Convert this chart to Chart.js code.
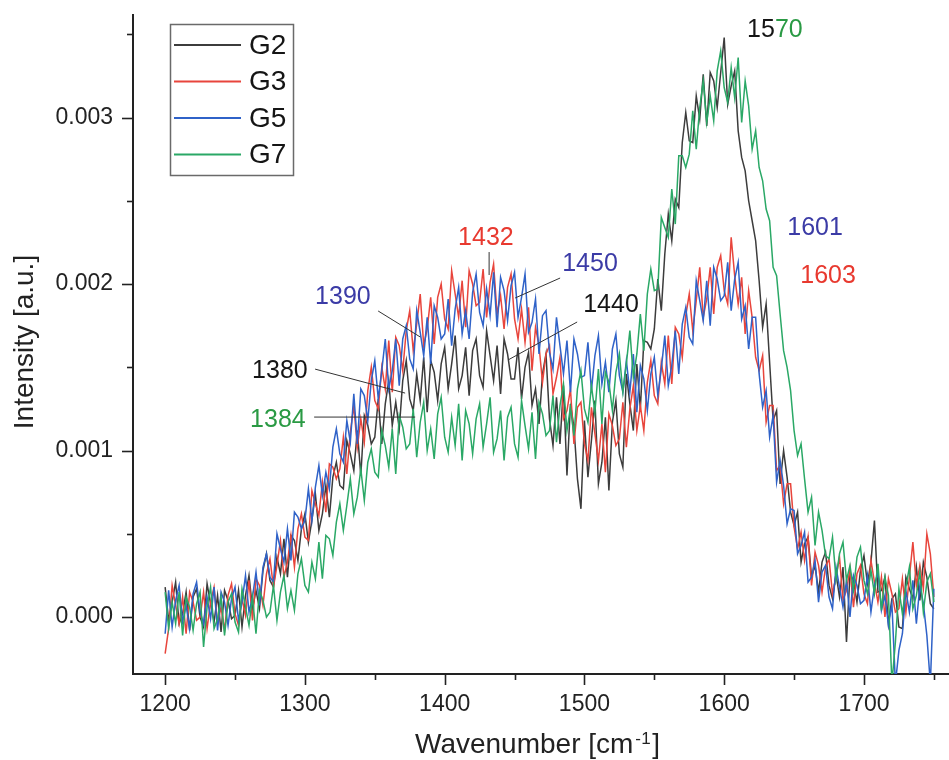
<!DOCTYPE html>
<html>
<head>
<meta charset="utf-8">
<script src="https://cdn.jsdelivr.net/npm/chart.js@4.4.1/dist/chart.umd.min.js"></script>
<style>
  html, body { margin: 0; padding: 0; background: #fff; overflow: hidden; }
  #wrap { width: 949px; height: 760px; overflow: hidden; }
</style>
</head>
<body>
<div id="wrap"><canvas id="chart" width="960" height="760"></canvas></div>
<script>
// Raman spectra, wavenumber in cm-1, step 2.5
const wavenumber = [
  1200,1202.5,1205,1207.5,1210,1212.5,1215,1217.5,1220,1222.5,1225,1227.5,1230,1232.5,1235,1237.5,1240,1242.5,1245,1247.5,
  1250,1252.5,1255,1257.5,1260,1262.5,1265,1267.5,1270,1272.5,1275,1277.5,1280,1282.5,1285,1287.5,1290,1292.5,1295,1297.5,
  1300,1302.5,1305,1307.5,1310,1312.5,1315,1317.5,1320,1322.5,1325,1327.5,1330,1332.5,1335,1337.5,1340,1342.5,1345,1347.5,
  1350,1352.5,1355,1357.5,1360,1362.5,1365,1367.5,1370,1372.5,1375,1377.5,1380,1382.5,1385,1387.5,1390,1392.5,1395,1397.5,
  1400,1402.5,1405,1407.5,1410,1412.5,1415,1417.5,1420,1422.5,1425,1427.5,1430,1432.5,1435,1437.5,1440,1442.5,1445,1447.5,
  1450,1452.5,1455,1457.5,1460,1462.5,1465,1467.5,1470,1472.5,1475,1477.5,1480,1482.5,1485,1487.5,1490,1492.5,1495,1497.5,
  1500,1502.5,1505,1507.5,1510,1512.5,1515,1517.5,1520,1522.5,1525,1527.5,1530,1532.5,1535,1537.5,1540,1542.5,1545,1547.5,
  1550,1552.5,1555,1557.5,1560,1562.5,1565,1567.5,1570,1572.5,1575,1577.5,1580,1582.5,1585,1587.5,1590,1592.5,1595,1597.5,
  1600,1602.5,1605,1607.5,1610,1612.5,1615,1617.5,1620,1622.5,1625,1627.5,1630,1632.5,1635,1637.5,1640,1642.5,1645,1647.5,
  1650,1652.5,1655,1657.5,1660,1662.5,1665,1667.5,1670,1672.5,1675,1677.5,1680,1682.5,1685,1687.5,1690,1692.5,1695,1697.5,
  1700,1702.5,1705,1707.5,1710,1712.5,1715,1717.5,1720,1722.5,1725,1727.5,1730,1732.5,1735,1737.5,1740,1742.5,1745,1747.5,
  1750
];

const g2 = [
  0.00018,-0.00002,0.00009,0.00021,-0.00004,0.00002,0.00015,-0.00008,0.00012,0.00017,0,-0.00006,0.00020,0.00008,-0.00003,0.00013,-0.00009,0.00016,0.00010,-0.00001,0.00001,0.00016,-0.00006,
  0.00013,0.00025,0.00005,0.00016,0.00005,0.00028,0.00038,0.00022,0.00018,0.00036,0.00026,0.00047,0.00024,0.00049,0.00046,0.00034,0.00053,
  0.00062,0.00045,0.00058,0.00074,0.00052,0.00062,0.00079,0.00060,0.00084,0.00093,0.00079,0.00077,0.00106,0.00098,
  0.00088,0.00112,0.00085,0.00121,0.00115,0.00104,0.00108,0.00131,0.00104,0.00128,0.00142,0.00115,0.00129,0.00113,0.00142,0.00154,0.00131,0.00124,0.00146,0.00130,0.00156,0.00123,0.00154,0.00147,0.00130,0.00152,
  0.00162,0.00137,0.00152,0.00169,0.00137,0.00145,0.00162,0.00133,0.00160,0.00167,0.00145,0.00138,0.00172,0.00157,0.00142,0.00163,0.00134,0.00167,0.00158,0.00143,0.00143,0.00162,0.00131,0.00150,0.00159,0.00127,0.00137,0.00116,
  0.00146,0.00158,0.00119,0.00103,0.00132,0.00104,0.00139,0.00085,0.00128,0.00114,0.00083,0.00065,0.00118,0.00084,0.00106,0.00130,0.00080,0.00093,0.00120,0.00076,0.00117,0.00130,0.00098,0.00090,0.00146,0.00128,0.00112,0.00152,
  0.00125,0.00166,0.00165,0.00161,0.00173,0.00203,0.00184,0.00218,0.00242,0.00226,0.00251,0.00246,0.00285,0.00303,0.00286,0.00285,0.00313,0.00299,0.00326,0.00295,0.00327,0.00322,0.00306,0.00327,0.00348,0.00308,0.00319,0.00328,0.00292,0.00276,0.00268,0.00250,0.00238,0.00226,0.00202,0.00174,0.00188,0.00153,0.00118,0.00124,0.00080,
  0.00100,0.00084,0.00063,0.00055,0.00063,0.00033,0.00044,0.00048,0.00024,0.00031,0.00015,0.00033,0.00039,0.00019,0.00011,0.00026,0.00012,0.00030,-0.00015,0.00026,0.00022,0.00009,0.00028,0.00037,0.00020,0.00033,0.00058,0.00015,0.00016,0.00024,-0.00004,0.00011,0.00014,-0.00006,-0.00007,0.00024,0.00017,0.00011,0.00030,0.00010,0.00033,0.00024,0.00008,0.00005
];

const g3 = [
  -0.00022,-0.00007,0.00019,0.00007,-0.00004,0.00012,-0.00010,0.00015,0.00009,-0.00002,0,0.00015,-0.00007,0.00009,0.00018,-0.00004,0.00006,-0.00008,0.00013,0.00020,0.00002,-0.00005,0.00011,
  0.00001,0.00022,-0.00002,0.00023,0.00019,0.00007,0.00026,0.00035,0.00018,0.00031,0.00046,0.00024,0.00033,0.00049,0.00030,0.00053,0.00062,0.00048,0.00046,0.00076,0.00068,0.00061,0.00081,0.00063,0.00092,0.00090,0.00083,0.00089,0.00108,
  0.00086,0.00111,0.00127,0.00102,0.00119,0.00105,0.00136,0.00150,0.00130,0.00125,0.00150,0.00137,0.00166,0.00135,0.00168,0.00163,0.00148,0.00172,0.00184,0.00160,0.00176,0.00194,0.00163,0.00173,0.00192,0.00164,0.00192,0.00200,
  0.00179,0.00173,0.00208,0.00194,0.00180,0.00202,0.00174,0.00208,0.00200,0.00187,0.00189,0.00209,0.00180,0.00201,0.00212,0.00182,0.00193,0.00173,0.00198,0.00206,0.00179,0.00167,0.00185,0.00165,0.00186,0.00148,0.00174,0.00163,
  0.00141,0.00158,0.00163,0.00134,0.00144,0.00156,0.00119,0.00124,0.00137,0.00104,0.00126,0.00129,0.00104,0.00094,0.00126,0.00110,0.00094,0.00116,0.00087,0.00122,0.00115,0.00103,0.00107,0.00129,0.00102,0.00125,0.00139,0.00112,
  0.00127,0.00112,0.00141,0.00154,0.00133,0.00128,0.00153,0.00140,0.00169,0.00140,0.00174,0.00170,0.00156,0.00181,0.00194,0.00172,0.00190,0.00210,0.00180,0.00191,0.00210,0.00182,0.00210,0.00217,0.00196,0.00188,0.00228,0.00205,0.00188,0.00204,0.00170,0.00196,0.00180,0.00156,0.00148,0.00157,0.00117,0.00127,0.00127,0.00088,
  0.00091,0.00068,0.00080,0.00080,0.00054,0.00041,0.00051,0.00034,0.00048,0.00019,0.00039,0.00031,0.00015,0.00030,0.00035,0.00014,0.00024,0.00036,0.00010,0.00016,0.00029,0.00006,0.00026,0.00031,0.00014,0.00008,0.00034,0.00021,0.00009,0.00024,0,0.00023,0.00014,0.00003,0.00005,0.00023,0.00003,0.00024,0.00045,0.00019,0.00031,0.00017,0.00050,0.00038,0.00012
];

const g5 = [
  -0.00010,0.00016,-0.00006,0.00010,0.00019,-0.00003,0.00007,-0.00007,0.00014,0.00021,0.00003,-0.00004,0.00012,-0.00001,0.00018,-0.00008,0.00015,0.00009,-0.00005,0.00011,0.00018,-0.00002,0.00009,
  0.00025,0.00003,0.00012,0.00027,0.00007,0.00030,0.00038,0.00024,0.00021,0.00050,0.00041,0.00033,0.00053,0.00034,0.00063,0.00060,0.00053,0.00058,0.00077,0.00058,0.00078,0.00091,0.00073,0.00087,0.00077,0.00102,0.00113,
  0.00098,0.00093,0.00118,0.00105,0.00134,0.00104,0.00137,0.00133,0.00118,0.00142,0.00154,0.00131,0.00148,0.00167,0.00137,0.00148,0.00167,0.00139,0.00167,0.00175,0.00155,0.00149,0.00184,0.00171,0.00157,0.00180,0.00152,0.00187,0.00180,0.00167,
  0.00170,0.00191,0.00163,0.00185,0.00198,0.00170,0.00184,0.00167,0.00195,0.00206,0.00183,0.00175,0.00197,0.00181,0.00207,0.00174,0.00204,0.00196,0.00178,0.00199,0.00207,0.00180,0.00192,0.00206,0.00171,0.00177,0.00191,0.00158,0.00181,0.00184,
  0.00159,0.00149,0.00180,0.00163,0.00146,0.00166,0.00135,0.00167,0.00158,0.00144,0.00145,0.00165,0.00136,0.00157,0.00169,0.00140,0.00153,0.00135,0.00161,0.00170,0.00145,0.00135,0.00154,0.00135,0.00158,0.00123,0.00151,0.00143,0.00124,0.00146,
  0.00156,0.00133,0.00149,0.00169,0.00139,0.00151,0.00172,0.00146,0.00176,0.00186,0.00168,0.00164,0.00202,0.00190,0.00178,0.00202,0.00175,0.00210,0.00203,0.00190,0.00193,0.00213,0.00184,0.00203,0.00213,0.00179,0.00187,0.00161,0.00180,0.00180,0.00146,0.00126,0.00136,0.00108,0.00121,
  0.00081,0.00094,0.00079,0.00056,0.00065,0.00064,0.00038,0.00043,0.00051,0.00021,0.00024,0.00034,0.00009,0.00027,0.00031,0.00012,0.00005,0.00030,0.00018,0.00006,0.00022,0,0.00025,0.00019,0.00008,0.00010,0.00025,0.00003,0.00019,0.00027,0.00004,0.00013,-0.00005,0.00008,-0.00040,-0.00020,-0.00010,0.00016,0.00003,0.00022,-0.00004,0.00019,0.00008,-0.00011,-0.00040,0.00017
];

const g7 = [
  0.00015,-0.00007,0.00009,-0.00004,0.00015,-0.00011,0.00012,0.00006,-0.00008,0.00008,0.00015,-0.00018,0.00006,0.00018,-0.00007,-0.00001,0.00012,-0.00011,0.00009,0.00014,-0.00003,-0.00009,0.00017,
  0.00006,-0.00005,0.00012,-0.00010,0.00016,0.00010,0,0.00003,0.00019,-0.00002,0.00015,0.00025,0.00005,0.00016,0.00004,0.00026,0.00035,0.00019,0.00015,0.00033,0.00023,0.00045,0.00023,0.00049,0.00047,0.00037,0.00057,0.00068,0.00052,0.00067,0.00083,0.00062,0.00072,0.00089,0.00070,0.00093,0.00101,0.00087,0.00084,0.00112,
  0.00103,0.00090,0.00113,0.00086,0.00121,0.00114,0.00101,0.00104,0.00125,0.00096,0.00117,0.00129,0.00100,0.00113,0.00095,0.00122,0.00132,0.00108,0.00099,0.00120,0.00103,0.00128,0.00094,0.00124,0.00116,0.00098,0.00119,0.00128,0.00102,0.00116,0.00132,0.00099,0.00107,0.00124,0.00094,0.00120,0.00126,0.00104,0.00096,0.00130,0.00115,
  0.00101,0.00123,0.00095,0.00129,0.00122,0.00109,0.00112,0.00133,0.00105,0.00127,0.00140,0.00112,0.00126,0.00109,0.00137,0.00148,0.00125,0.00117,0.00139,0.00123,0.00149,0.00116,0.00147,0.00141,0.00124,0.00147,0.00158,0.00135,0.00152,0.00172,0.00144,0.00158,0.00182,0.00160,0.00194,0.00209,
  0.00196,0.00197,0.00240,0.00234,0.00228,0.00257,0.00236,0.00277,0.00277,0.00270,0.00278,0.00304,0.00281,0.00306,0.00322,0.00297,0.00313,0.00298,0.00328,0.00340,0.00318,0.00309,0.00330,0.00312,0.00336,0.00297,0.00322,0.00307,0.00281,0.00292,0.00270,0.00262,0.00245,0.00238,0.00210,0.00205,0.00182,0.00160,0.00150,0.00136,0.00112,0.00097,
  0.00104,0.00083,0.00063,0.00072,0.00043,0.00063,0.00052,0.00037,0.00035,0.00048,0.00023,0.00038,0.00045,0.00022,0.00031,0.00016,0.00036,0.00042,0.00022,0.00014,0.00028,0.00014,0.00032,0.00004,0.00024,0.00013,-0.00040,-0.00015,0.00017,0.00002,0.00018,0.00030,0.00005,0.00013,0.00027,0.00003,0.00021,0.00026,0.00009
];

const seriesNames = ['G2', 'G3', 'G5', 'G7'];
const seriesColors = ['#3c3c3c', '#e8453c', '#2f62c8', '#2aa866'];

const xTicks = [1200, 1250, 1300, 1350, 1400, 1450, 1500, 1550, 1600, 1650, 1700, 1750];
const xTickLabels = ['1200', '', '1300', '', '1400', '', '1500', '', '1600', '', '1700', ''];
const yTicks = [0, 0.0005, 0.001, 0.0015, 0.002, 0.0025, 0.003, 0.0035];
const yTickLabels = ['0.000', '', '0.001', '', '0.002', '', '0.003', ''];

const RED = '#e8392f', PURPLE = '#3b3ba6', GREEN = '#2a9a44', BLACK = '#151515';

// peak labels: text anchor (left, baseline) and leader line, in data units
const peakNotes = [
  { parts: [['1432', RED]], at: [1409.6, 0.002234], line: [[1431.8, 0.002192], [1431.8, 0.002054]] },
  { parts: [['1390', PURPLE]], at: [1307.3, 0.00188], line: [[1352.4, 0.001838], [1382.5, 0.001682]] },
  { parts: [['1450', PURPLE]], at: [1484.1, 0.002078], line: [[1482.6, 0.002036], [1450.4, 0.001916]] },
  { parts: [['1440', BLACK]], at: [1499.1, 0.001832], line: [[1494.8, 0.001772], [1445.4, 0.001544]] },
  { parts: [['1380', BLACK]], at: [1262.2, 0.001435], line: [[1307.3, 0.001489], [1371.7, 0.001345]] },
  { parts: [['1384', GREEN]], at: [1260.8, 0.001141], line: [[1306.6, 0.001201], [1378.9, 0.001201]] },
  { parts: [['15', BLACK], ['70', GREEN]], at: [1616.4, 0.003483] },
  { parts: [['1601', PURPLE]], at: [1645.1, 0.002294] },
  { parts: [['1603', RED]], at: [1654.4, 0.002006] }
];

const FONT = "'Liberation Sans', Arial, sans-serif";
Chart.defaults.font.family = FONT;

const datasets = [g2, g3, g5, g7].map((vals, i) => ({
  label: seriesNames[i],
  data: vals.map((v, k) => ({ x: wavenumber[k], y: v })),
  borderColor: seriesColors[i],
  borderWidth: 1.5,
  pointRadius: 0,
  tension: 0,
  fill: false,
  order: 3 - i
}));

const overlay = {
  id: 'overlay',
  afterDraw(chart) {
    const ctx = chart.ctx;
    const x = chart.scales.x, y = chart.scales.y;
    const a = chart.chartArea;
    ctx.save();

    // tick marks, longer at labelled values
    ctx.strokeStyle = '#222';
    ctx.lineWidth = 1.6;
    xTicks.forEach((v, i) => {
      const px = Math.round(x.getPixelForValue(v)) + 0.5;
      const len = xTickLabels[i] ? 11 : 6;
      ctx.beginPath(); ctx.moveTo(px, a.bottom); ctx.lineTo(px, a.bottom + len); ctx.stroke();
    });
    yTicks.forEach((v, i) => {
      const py = Math.round(y.getPixelForValue(v)) + 0.5;
      const len = yTickLabels[i] ? 11 : 6;
      ctx.beginPath(); ctx.moveTo(a.left, py); ctx.lineTo(a.left - len, py); ctx.stroke();
    });

    // axis titles
    ctx.fillStyle = '#222';
    ctx.textBaseline = 'alphabetic';
    ctx.textAlign = 'left';
    ctx.font = '28px ' + FONT;
    const t1 = 'Wavenumber [cm';
    const w1 = ctx.measureText(t1).width;
    const tx = a.left + 282;
    ctx.fillText(t1, tx, 753);
    ctx.font = '17px ' + FONT;
    ctx.fillText('-', tx + w1 + 2, 744);
    ctx.fillText('1', tx + w1 + 8, 744);
    ctx.font = '28px ' + FONT;
    ctx.fillText(']', tx + w1 + 19, 753);

    ctx.save();
    ctx.translate(33, 342);
    ctx.rotate(-Math.PI / 2);
    ctx.textAlign = 'center';
    ctx.fillText('Intensity [a.u.]', 0, 0);
    ctx.restore();

    // peak labels with leader lines
    ctx.font = '25px ' + FONT;
    ctx.textAlign = 'left';
    peakNotes.forEach(n => {
      let px = x.getPixelForValue(n.at[0]);
      const py = y.getPixelForValue(n.at[1]);
      n.parts.forEach(([t, c]) => {
        ctx.fillStyle = c;
        ctx.fillText(t, px, py);
        px += ctx.measureText(t).width;
      });
      if (n.line) {
        ctx.strokeStyle = '#333';
        ctx.lineWidth = 1;
        ctx.beginPath();
        ctx.moveTo(x.getPixelForValue(n.line[0][0]), y.getPixelForValue(n.line[0][1]));
        ctx.lineTo(x.getPixelForValue(n.line[1][0]), y.getPixelForValue(n.line[1][1]));
        ctx.stroke();
      }
    });

    // legend box
    ctx.strokeStyle = '#6a6a6a';
    ctx.lineWidth = 1.5;
    ctx.strokeRect(170.5, 24.5, 123, 151);
    ctx.font = '28px ' + FONT;
    ctx.textBaseline = 'middle';
    chart.data.datasets.forEach((ds, i) => {
      const ly = 45 + i * 36.5;
      ctx.strokeStyle = ds.borderColor;
      ctx.lineWidth = 2;
      ctx.beginPath(); ctx.moveTo(174, ly); ctx.lineTo(241, ly); ctx.stroke();
      ctx.fillStyle = '#151515';
      ctx.fillText(ds.label, 249, ly + 1);
    });
    ctx.restore();
  }
};

new Chart(document.getElementById('chart'), {
  type: 'line',
  data: { datasets: datasets },
  options: {
    responsive: false,
    animation: false,
    layout: { padding: { left: 0, top: 15, right: 1, bottom: 0 } },
    plugins: { legend: { display: false }, tooltip: { enabled: false } },
    scales: {
      x: {
        type: 'linear',
        min: 1177,
        max: 1768,
        grid: { display: false, drawTicks: false },
        border: { display: true, color: '#222', width: 2 },
        afterBuildTicks: s => { s.ticks = xTicks.map(v => ({ value: v })); },
        afterFit: s => { s.height = 86; s.paddingLeft = 0; s.paddingRight = 0; },
        ticks: {
          autoSkip: false,
          maxRotation: 0,
          padding: 17,
          color: '#222',
          font: { size: 23 },
          callback: (v) => xTickLabels[xTicks.indexOf(v)] || ''
        }
      },
      y: {
        min: -0.000342,
        max: 0.0036156,
        grid: { display: false, drawTicks: false },
        border: { display: true, color: '#222', width: 2 },
        afterBuildTicks: s => { s.ticks = yTicks.map(v => ({ value: v })); },
        afterFit: s => { s.width = 133; s.paddingTop = 0; s.paddingBottom = 0; },
        ticks: {
          autoSkip: false,
          padding: 20,
          color: '#222',
          font: { size: 23 },
          callback: (v) => {
            const i = yTicks.findIndex(t => Math.abs(t - v) < 1e-9);
            return i >= 0 ? yTickLabels[i] : '';
          }
        }
      }
    }
  },
  plugins: [overlay]
});
</script>
</body>
</html>
